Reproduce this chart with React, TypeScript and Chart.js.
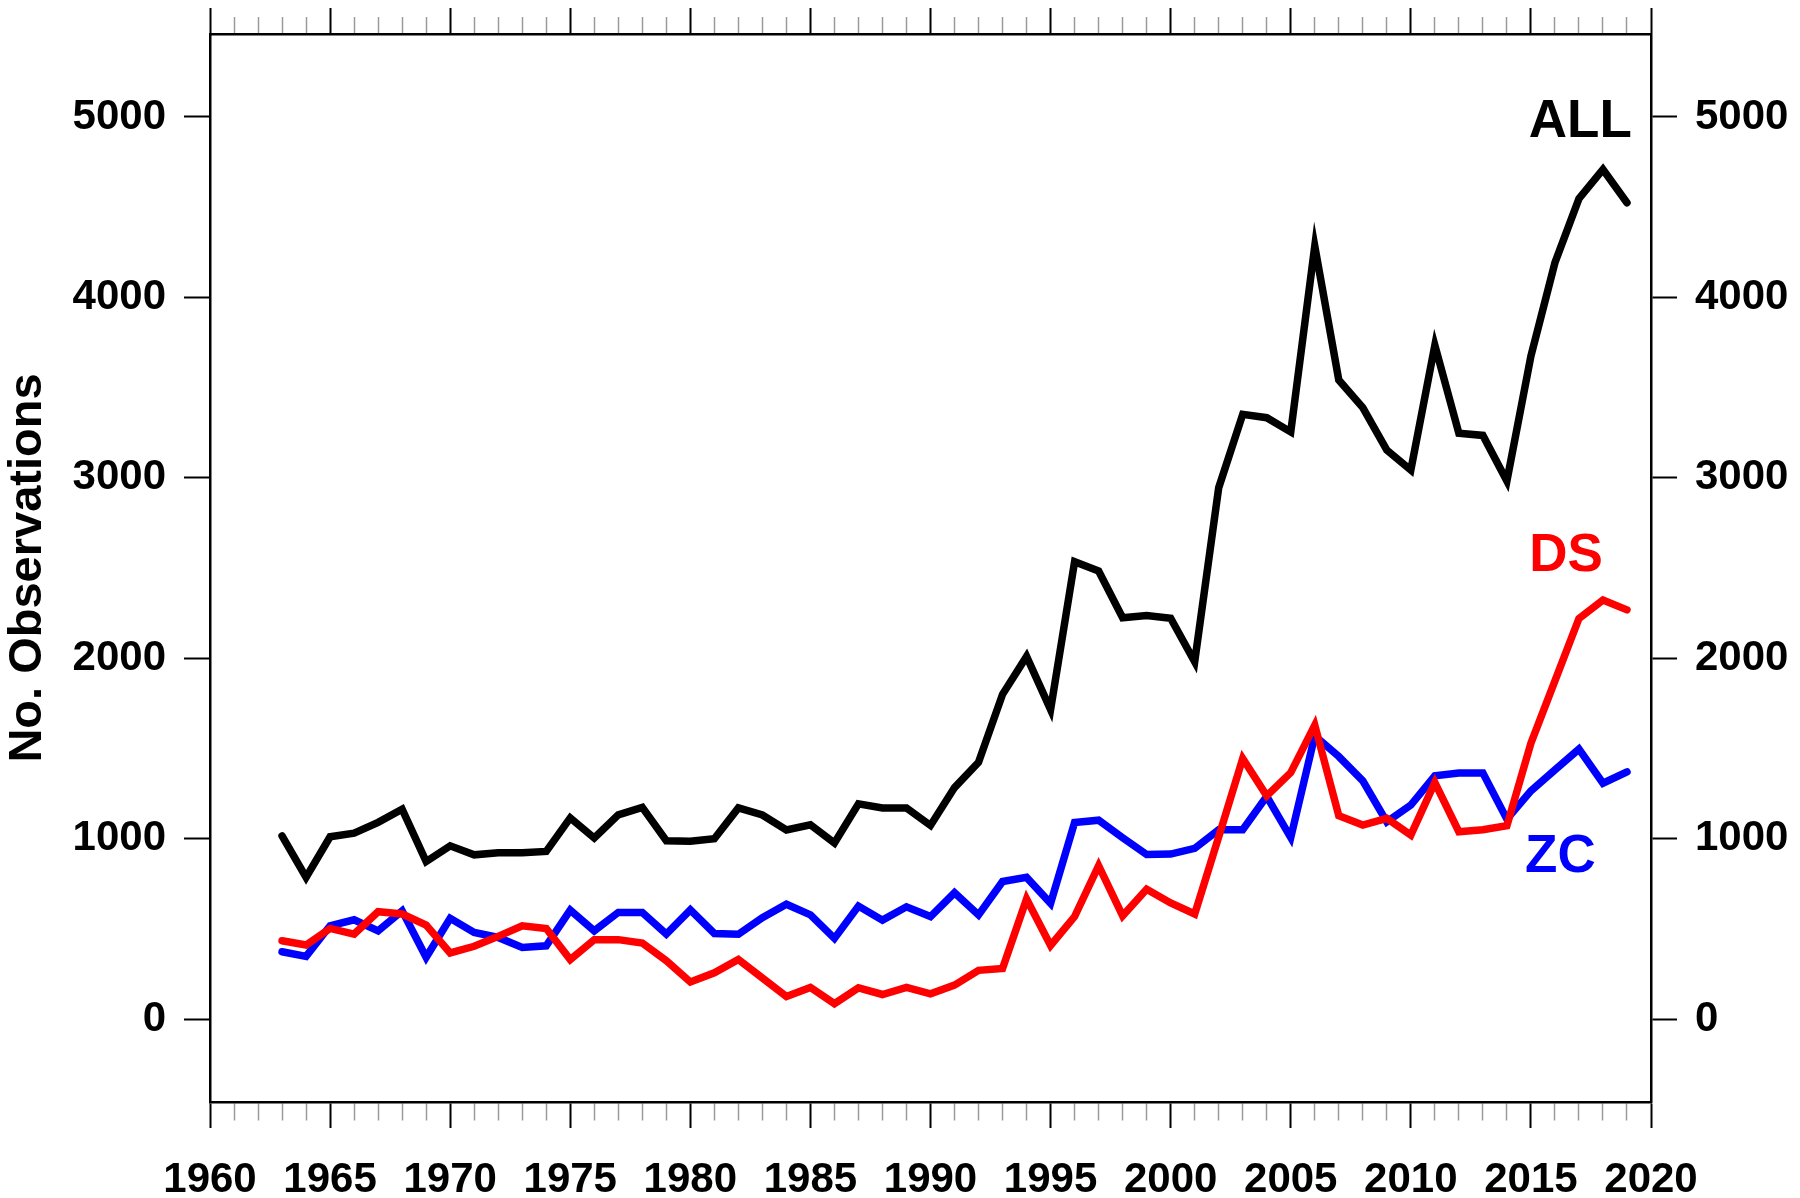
import React, { useEffect, useRef } from "react";
import { Chart, registerables } from "chart.js";

Chart.register(...registerables);

const YEARS: number[] = [];
for (let y = 1963; y <= 2019; y++) YEARS.push(y);

const ALL_VALUES = [
  1015, 785, 1010, 1030, 1090, 1163, 873, 960, 910, 922,
  922, 929, 1115, 1003, 1132, 1173, 988, 985, 999, 1170,
  1131, 1048, 1077, 976, 1193, 1170, 1170, 1073, 1283, 1423,
  1800, 2010, 1715, 2535, 2483, 2224, 2236, 2222, 1980, 2945,
  3352, 3333, 3254, 4284, 3542, 3389, 3154, 3043, 3734, 3247,
  3235, 2982, 3675, 4192, 4547, 4709, 4525,
];

const ZC_VALUES = [
  373, 347, 517, 550, 489, 600, 342, 558, 480, 452,
  397, 406, 604, 489, 591, 591, 471, 605, 474, 470,
  562, 636, 577, 447, 626, 548, 622, 568, 700, 577,
  762, 785, 641, 1089, 1102, 1005, 912, 914, 946, 1049,
  1049, 1234, 1006, 1570, 1455, 1320, 1093, 1186, 1348, 1363,
  1363, 1108, 1265, 1381, 1496, 1307, 1370,
];

const DS_VALUES = [
  434, 410, 502, 471, 595, 582, 521, 366, 403, 458,
  517, 502, 329, 440, 440, 421, 323, 205, 256, 330,
  227, 125, 175, 85, 173, 136, 175, 140, 188, 270,
  280, 665, 408, 568, 850, 572, 719, 643, 582, 1010,
  1444, 1237, 1366, 1629, 1127, 1075, 1112, 1019, 1311, 1038,
  1049, 1071, 1529, 1874, 2220, 2323, 2268,
];

const Y_TICKS = [0, 1000, 2000, 3000, 4000, 5000];
const SERIES_NAMES = ["ALL", "DS", "ZC"];
const Y_TITLE = "No. Observations";

const FONT_FAMILY = "'Liberation Sans', Arial, Helvetica, sans-serif";

const toPoints = (vals: number[]) => vals.map((v, i) => ({ x: YEARS[i], y: v }));

const seriesLabelPlugin = {
  id: "seriesLabels",
  afterDatasetsDraw(chart: any) {
    const { ctx, scales } = chart;
    const xs = scales.x;
    const ys = scales.y;
    const items = [
      { text: SERIES_NAMES[0], color: "#000000", x: 2019.2, y: 4890 },
      { text: SERIES_NAMES[1], color: "#ff0000", x: 2018.0, y: 2482 },
      { text: SERIES_NAMES[2], color: "#0000ff", x: 2017.7, y: 814 },
    ];
    ctx.save();
    ctx.font = `bold 53px ${FONT_FAMILY}`;
    ctx.textAlign = "right";
    ctx.textBaseline = "alphabetic";
    for (const it of items) {
      ctx.fillStyle = it.color;
      ctx.fillText(it.text, xs.getPixelForValue(it.x), ys.getPixelForValue(it.y));
    }
    ctx.restore();
  },
};

export default function App() {
  const ref = useRef<HTMLCanvasElement | null>(null);

  useEffect(() => {
    document.body.style.margin = "0";
    const canvas = ref.current;
    if (!canvas) return;

    const tickFont = { family: FONT_FAMILY, size: 42, weight: "bold" as const };
    const isMajor = (ctx: any) => ctx.tick && Math.round(ctx.tick.value) % 5 === 0;

    const xGrid = (top: boolean) => ({
      drawOnChartArea: false,
      drawTicks: true,
      tickLength: 26,
      tickColor: (ctx: any) => (isMajor(ctx) ? "#000000" : "#9a9a9a"),
      tickWidth: (ctx: any) => (isMajor(ctx) ? 2 : 1.5),
      tickBorderDash: (ctx: any) =>
        isMajor(ctx) ? [] : top ? [0, 9, 17, 1000] : [17, 1000],
    });

    const setYTicks = (axis: any) => {
      axis.ticks = Y_TICKS.map((v) => ({ value: v }));
    };

    const fixSize = (prop: "width" | "height", size: number) => (axis: any) => {
      axis[prop] = size;
      axis.paddingTop = 0;
      axis.paddingBottom = 0;
      axis.paddingLeft = 0;
      axis.paddingRight = 0;
    };

    const yGrid = {
      drawOnChartArea: false,
      tickLength: 26,
      tickColor: "#000000",
      tickWidth: 2,
    };

    const lineStyle = {
      borderWidth: 7.5,
      pointRadius: 0,
      tension: 0,
      borderCapStyle: "round",
      borderJoinStyle: "miter",
    };

    const chart = new Chart(canvas, {
      type: "line",
      data: {
        datasets: [
          { label: "DS", data: toPoints(DS_VALUES), borderColor: "#ff0000", order: 0, ...lineStyle },
          { label: "ZC", data: toPoints(ZC_VALUES), borderColor: "#0000ff", order: 1, ...lineStyle },
          { label: "ALL", data: toPoints(ALL_VALUES), borderColor: "#000000", order: 2, ...lineStyle },
        ],
      },
      options: {
        animation: false,
        responsive: false,
        devicePixelRatio: 1,
        layout: { padding: 0 },
        plugins: {
          legend: { display: false },
          tooltip: { enabled: false },
        },
        scales: {
          x: {
            type: "linear",
            position: "bottom",
            min: 1960,
            max: 2020,
            afterFit: fixSize("height", 96),
            ticks: {
              stepSize: 1,
              autoSkip: false,
              maxRotation: 0,
              minRotation: 0,
              padding: 27,
              color: "#000000",
              font: tickFont,
              callback: (v: any) => (Math.round(v) % 5 === 0 ? String(v) : ""),
            },
            grid: xGrid(false),
            border: { display: true, color: "#000000", width: 2.5 },
          },
          x2: {
            type: "linear",
            position: "top",
            min: 1960,
            max: 2020,
            afterFit: fixSize("height", 34),
            ticks: {
              stepSize: 1,
              autoSkip: false,
              maxRotation: 0,
              minRotation: 0,
              padding: 0,
              font: tickFont,
              callback: () => "",
            },
            grid: xGrid(true),
            border: { display: true, color: "#000000", width: 2.5 },
          },
          y: {
            type: "linear",
            position: "left",
            min: -460,
            max: 5460,
            afterBuildTicks: setYTicks,
            afterFit: fixSize("width", 210),
            ticks: {
              padding: 18,
              color: "#000000",
              font: tickFont,
              callback: (v: any) => String(v),
            },
            title: {
              display: true,
              text: Y_TITLE,
              color: "#000000",
              padding: 0,
              font: { family: FONT_FAMILY, size: 47, weight: "bold" },
            },
            grid: yGrid,
            border: { display: true, color: "#000000", width: 2.5 },
          },
          y2: {
            type: "linear",
            position: "right",
            min: -460,
            max: 5460,
            afterBuildTicks: setYTicks,
            afterFit: fixSize("width", 149),
            ticks: {
              padding: 18,
              color: "#000000",
              font: tickFont,
              callback: (v: any) => String(v),
            },
            grid: yGrid,
            border: { display: true, color: "#000000", width: 2.5 },
          },
        },
      } as any,
      plugins: [seriesLabelPlugin],
    });

    return () => {
      chart.destroy();
    };
  }, []);

  return (
    <div style={{ width: 1800, height: 1198, background: "#ffffff" }}>
      <canvas ref={ref} width={1800} height={1198} style={{ display: "block", width: 1800, height: 1198 }} />
    </div>
  );
}
